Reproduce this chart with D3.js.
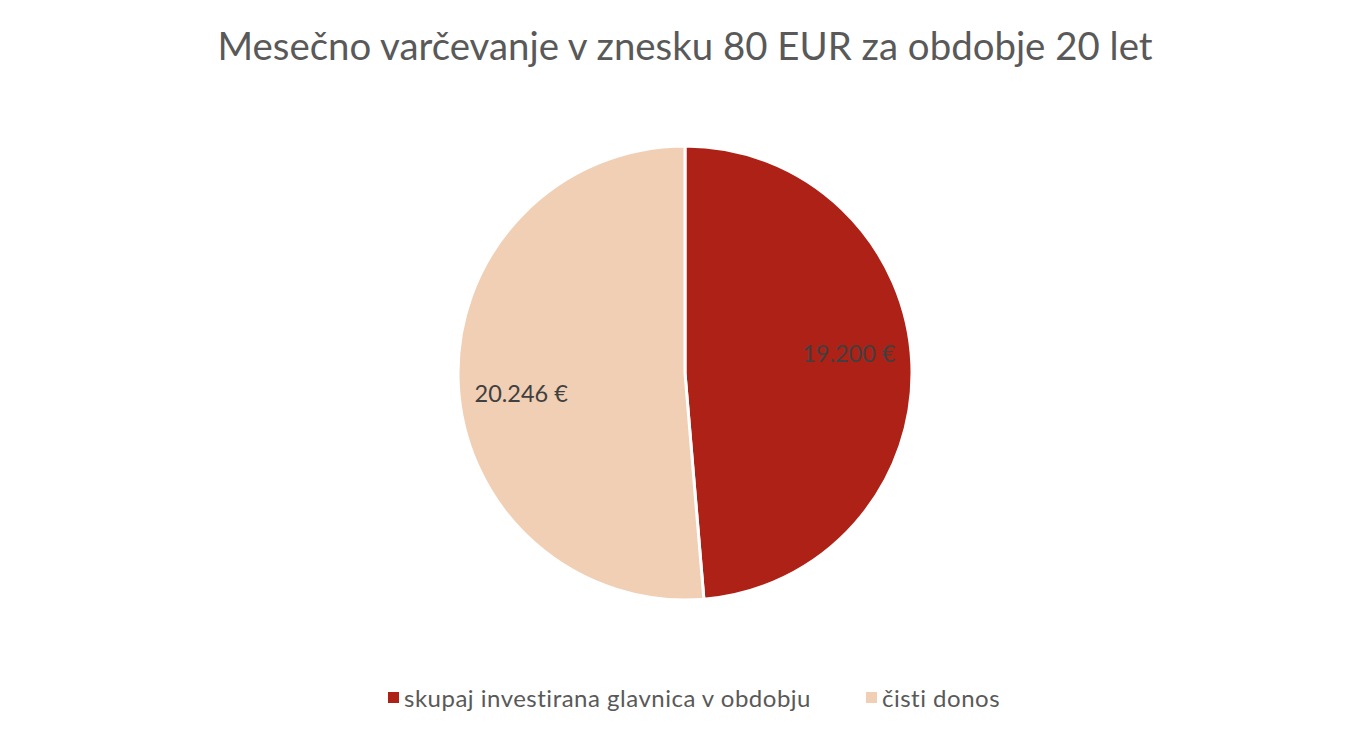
<!DOCTYPE html>
<meta charset="utf-8">
<script src="https://d3js.org/d3.v7.min.js"></script>
<style>
  body { margin: 0; background: #fff; }
  text { font-family: Lato, "Open Sans", sans-serif; }
</style>
<div id="chart"></div>
<script>
// data
var categories = ["skupaj investirana glavnica v obdobju", "čisti donos"];
var values = [19200, 20246];
var valueLabels = ["19.200 €", "20.246 €"];
var colors = ["#ae2116", "#f0cfb4"];

var W = 1370, H = 738;
var cx = 685, cy = 373, R = 227;

var svg = d3.select("#chart").append("svg")
  .attr("width", W).attr("height", H);

// title
svg.append("text")
  .attr("x", W / 2).attr("y", 60)
  .attr("text-anchor", "middle")
  .style("font-size", "38.4px")
  .style("fill", "#595959")
  .text("Mesečno varčevanje v znesku 80 EUR za obdobje 20 let");

var pie = d3.pie().sort(null).value(function(d) { return d; });
var arcs = pie(values);
var arc = d3.arc().innerRadius(0).outerRadius(R);
var lr = R * 0.727;

var g = svg.append("g").attr("transform", "translate(" + cx + "," + cy + ")");

g.selectAll("path")
  .data(arcs)
  .enter().append("path")
    .attr("d", arc)
    .attr("fill", function(d, i) { return colors[i]; })
    .attr("stroke", "#fff")
    .attr("stroke-width", 3);

// labels a bit before the mid angle, like Excel's best fit
g.selectAll(".lbl")
  .data(arcs)
  .enter().append("text")
    .attr("class", "lbl")
    .attr("transform", function(d) {
      var a = (d.startAngle + d.endAngle) / 2 - 0.08;
      return "translate(" + (lr * Math.sin(a)) + "," + (-lr * Math.cos(a)) + ")";
    })
    .attr("text-anchor", "middle")
    .attr("dominant-baseline", "central")
    .style("font-size", "23.5px")
    .style("fill", "#404040")
    .text(function(d, i) { return valueLabels[i]; });

// legend
var legendX = [388, 866];
var lg = svg.selectAll(".leg")
  .data(categories)
  .enter().append("g")
    .attr("transform", function(d, i) { return "translate(" + legendX[i] + ",697)"; });

lg.append("rect")
  .attr("x", 0).attr("y", -5)
  .attr("width", 11).attr("height", 11)
  .attr("fill", function(d, i) { return colors[i]; });

lg.append("text")
  .attr("x", 16).attr("y", 0)
  .attr("dominant-baseline", "central")
  .style("font-size", "24px")
  .style("letter-spacing", "0.5px")
  .style("fill", "#595959")
  .text(function(d) { return d; });
</script>
